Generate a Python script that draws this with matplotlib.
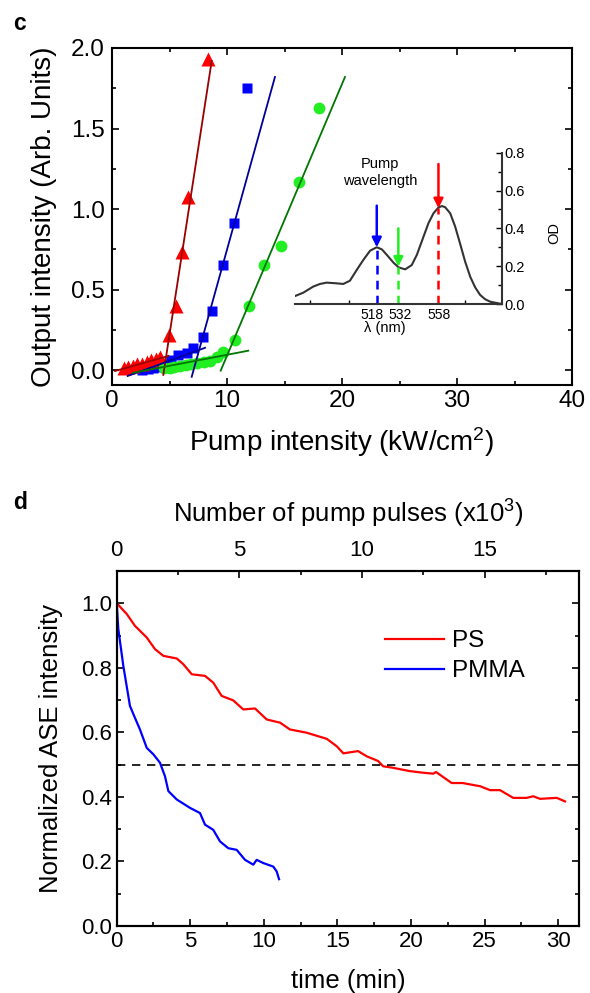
import matplotlib
matplotlib.use("Agg")
import matplotlib.pyplot as plt
from matplotlib.ticker import MultipleLocator, FixedLocator, FormatStrFormatter, NullFormatter
from matplotlib.transforms import offset_copy

plt.rcParams['font.family'] = ['Liberation Sans', 'DejaVu Sans']
plt.rcParams['mathtext.fontset'] = 'custom'
plt.rcParams['mathtext.rm'] = 'Liberation Sans'
plt.rcParams['mathtext.it'] = 'Liberation Sans:italic'

# ---------------- Panel c data ----------------
red_x = [1.0, 1.4, 1.8, 2.2, 2.6, 3.0, 3.4, 3.8, 4.2, 4.99, 5.57, 6.11, 6.64, 8.37]
red_y = [0.01, 0.02, 0.025, 0.035, 0.04, 0.05, 0.06, 0.07, 0.08, 0.217, 0.40, 0.73, 1.075, 1.93]
blue_x = [2.6, 3.1, 3.6, 4.1, 4.6, 5.1, 5.77, 6.49, 7.07, 7.94, 8.70, 9.62, 10.64, 11.71]
blue_y = [0.0, 0.005, 0.012, 0.02, 0.035, 0.06, 0.093, 0.107, 0.134, 0.207, 0.368, 0.65, 0.916, 1.75]
green_x = [4.5, 5.0, 5.4, 5.9, 6.4, 6.9, 7.4, 8.0, 8.5, 9.1, 9.68, 10.7, 11.9, 13.2, 14.7, 16.3, 18.0]
green_y = [0.014, 0.01, 0.02, 0.027, 0.033, 0.037, 0.043, 0.05, 0.058, 0.083, 0.114, 0.186, 0.40,
           0.65, 0.77, 1.17, 1.63]

# fit lines (end points)
red_fit_lo_x, red_fit_lo_y = [0.26, 4.9], [-0.006, 0.087]
red_fit_hi_x, red_fit_hi_y = [4.46, 8.67], [-0.03, 1.92]
blue_fit_lo_x, blue_fit_lo_y = [1.36, 8.09], [-0.037, 0.138]
blue_fit_hi_x, blue_fit_hi_y = [6.93, 14.17], [-0.042, 1.82]
green_fit_lo_x, green_fit_lo_y = [1.85, 11.85], [-0.017, 0.12]
green_fit_hi_x, green_fit_hi_y = [9.45, 20.26], [-0.004, 1.82]

# inset absorption spectrum
wl = [465, 470.4, 476.8, 481.2, 485.5, 490.9, 496.3, 500.6, 505, 509.3, 513.7, 518, 521.3,
      524.5, 528.8, 532.1, 536.4, 540.7, 544, 548.3, 551.5, 554.8, 558, 560.2, 562.3, 565.6,
      568.8, 572, 575.3, 578.6, 581.8, 585, 588.3, 591.6, 599]
od = [0.042, 0.060, 0.092, 0.106, 0.113, 0.110, 0.106, 0.123, 0.18, 0.233, 0.282, 0.30, 0.289,
      0.26, 0.219, 0.194, 0.183, 0.206, 0.26, 0.356, 0.427, 0.48, 0.51, 0.518, 0.512, 0.48,
      0.41, 0.32, 0.224, 0.144, 0.088, 0.048, 0.025, 0.012, 0.0]
pump_wl = [518, 532, 558]
pump_labels = ['518', '532', '558']
arrow_top = [0.52, 0.40, 0.74]
arrow_tip = [0.30, 0.197, 0.506]
pump_colors = ['#0000FF', '#22EE22', '#FF0000']

# ---------------- Panel d data ----------------
ps_t = [0, 0.68, 1.24, 2.04, 2.6, 3.17, 4.08, 4.53, 5.1, 6.0, 6.56, 7.13, 7.92, 8.6, 9.4,
        10.19, 11.1, 11.77, 12.9, 14.27, 14.95, 15.4, 16.4, 16.98, 17.77, 18.1, 18.8, 19.9,
        20.8, 21.5, 21.7, 22.76, 23.5, 24.7, 25.36, 26.04, 26.94, 27.85, 28.3, 28.76, 29.9, 30.46]
ps_i = [1.0, 0.967, 0.93, 0.894, 0.858, 0.837, 0.829, 0.811, 0.78, 0.775, 0.754, 0.713, 0.699,
        0.671, 0.674, 0.64, 0.63, 0.609, 0.599, 0.58, 0.557, 0.535, 0.542, 0.526, 0.511, 0.495,
        0.49, 0.48, 0.475, 0.472, 0.477, 0.443, 0.443, 0.433, 0.421, 0.421, 0.397, 0.397,
        0.402, 0.394, 0.397, 0.386]
pmma_t = [0, 0.11, 0.45, 0.9, 1.24, 1.58, 2.04, 2.49, 2.94, 3.28, 3.51, 4.08, 4.98, 5.66, 6.0,
          6.56, 7.02, 7.58, 8.15, 8.72, 9.28, 9.51, 9.96, 10.64, 10.87, 11.03]
pmma_i = [1.0, 0.92, 0.806, 0.682, 0.645, 0.609, 0.552, 0.532, 0.506, 0.464, 0.418, 0.392,
          0.366, 0.35, 0.314, 0.298, 0.262, 0.241, 0.236, 0.205, 0.19, 0.205, 0.195, 0.184,
          0.169, 0.145]
pulses_per_min = 0.6  # x10^3 pulses per minute (10 Hz)

W, H = 590, 993
fig = plt.figure(figsize=(W / 100, H / 100), dpi=100)

def style_ticks(ax, size):
    ax.tick_params(which='both', direction='in', labelsize=size, width=1.2)
    ax.tick_params(which='major', length=5)
    ax.tick_params(which='minor', length=3)
    for s in ax.spines.values():
        s.set_linewidth(1.5)

# ---------------- Panel c ----------------
axc = fig.add_axes([112 / W, 1 - 385 / H, 460 / W, 337 / H])
axc.plot(blue_x, blue_y, 's', color='#0000FF', ms=7.5, mec='none', zorder=3)
axc.plot(red_x, red_y, '^', color='#FF0000', ms=10, mec='none', zorder=3)
axc.plot(green_x, green_y, 'o', color='#22EE22', ms=8.5, mec='none', zorder=3)
for fx, fy, c in [(red_fit_lo_x, red_fit_lo_y, '#990000'), (red_fit_hi_x, red_fit_hi_y, '#990000'),
                  (blue_fit_lo_x, blue_fit_lo_y, '#000099'), (blue_fit_hi_x, blue_fit_hi_y, '#000099'),
                  (green_fit_lo_x, green_fit_lo_y, '#007700'), (green_fit_hi_x, green_fit_hi_y, '#007700')]:
    axc.plot(fx, fy, '-', color=c, lw=1.3, zorder=4)
axc.set_xlim(0, 40)
axc.set_ylim(-0.093, 2.0)
axc.xaxis.set_major_locator(MultipleLocator(10))
axc.xaxis.set_minor_locator(MultipleLocator(5))
axc.yaxis.set_major_locator(MultipleLocator(0.5))
axc.yaxis.set_minor_locator(MultipleLocator(0.25))
axc.yaxis.set_major_formatter(FormatStrFormatter('%.1f'))
style_ticks(axc, 17.5)
axc.tick_params(which='both', top=True, right=True)
axc.tick_params(axis='y', pad=5)
axc.set_xlabel('Pump intensity (kW/cm$^2$)', fontsize=20, va='top')
axc.xaxis.set_label_coords(0.5, -0.118)
axc.set_ylabel('Output intensity (Arb. Units)', fontsize=20)
axc.yaxis.set_label_coords(-0.12, 0.5)

# inset
axi = fig.add_axes([295 / W, 1 - 304 / H, 206.7 / W, 151.3 / H])
axi.patch.set_alpha(0)
axi.plot(wl, od, '-', color='#333333', lw=1.5)
for w_, top, tip, c in zip(pump_wl, arrow_top, arrow_tip, pump_colors):
    axi.annotate('', xy=(w_, tip), xytext=(w_, top),
                 arrowprops=dict(arrowstyle='-|>', color=c, lw=1.8, mutation_scale=14,
                                 shrinkA=0, shrinkB=0))
    axi.plot([w_, w_], [0, tip], color=c, lw=1.8, dashes=(3.5, 2.5))
axi.set_xlim(465, 599)
axi.set_ylim(0, 0.8)
axi.spines['top'].set_visible(False)
axi.spines['left'].set_visible(False)
axi.yaxis.tick_right()
axi.xaxis.set_major_locator(FixedLocator(pump_wl))
axi.xaxis.set_major_formatter(NullFormatter())
axi.xaxis.set_minor_locator(FixedLocator([475, 500, 575]))
axi.yaxis.set_major_locator(MultipleLocator(0.2))
axi.yaxis.set_minor_locator(MultipleLocator(0.1))
axi.yaxis.set_major_formatter(FormatStrFormatter('%.1f'))
axi.tick_params(which='both', direction='in', labelsize=10.5, width=1.0, pad=2)
axi.tick_params(which='major', length=4)
axi.tick_params(which='minor', length=3)
axi.tick_params(axis='x', which='major', length=0)
for s in ['bottom', 'right']:
    axi.spines[s].set_linewidth(1.5)
    axi.spines[s].set_color('#333333')
# tick labels for pump wavelengths, nudged apart as in the original
for w_, lab, dx in zip(pump_wl, pump_labels, [-5, 1.5, 0.5]):
    tr = offset_copy(axi.get_xaxis_transform(), fig=fig, x=dx, y=-4, units='dots')
    axi.text(w_, 0, lab, transform=tr, fontsize=10, ha='center', va='top')
axi.set_xlabel('λ (nm)', fontsize=10.5, va='top')
axi.xaxis.set_label_coords(0.435, -0.112)
axi.set_ylabel('OD', fontsize=10.5, rotation=90, va='center')
axi.yaxis.set_label_position('right')
axi.yaxis.set_label_coords(1.218, 0.469)
axi.text(520, 0.695, 'Pump\nwavelength', fontsize=10.5, ha='center', va='center', linespacing=1.25)

# ---------------- Panel d ----------------
axd = fig.add_axes([116.7 / W, 1 - 926 / H, 462.6 / W, 355 / H])
axd.plot(ps_t, ps_i, '-', color='#FF0000', lw=1.6, label='PS')
axd.plot(pmma_t, pmma_i, '-', color='#0000FF', lw=1.6, label='PMMA')
axd.axhline(0.5, color='black', lw=1.2, dashes=(5, 4))
tmax = 31.43
axd.set_xlim(0, tmax)
axd.set_ylim(0, 1.1)
axd.xaxis.set_major_locator(MultipleLocator(5))
axd.xaxis.set_minor_locator(MultipleLocator(2.5))
axd.yaxis.set_major_locator(MultipleLocator(0.2))
axd.yaxis.set_minor_locator(MultipleLocator(0.1))
axd.yaxis.set_major_formatter(FormatStrFormatter('%.1f'))
style_ticks(axd, 16)
axd.tick_params(which='both', right=True)
axd.set_xlabel('time (min)', fontsize=18.5, va='top')
axd.xaxis.set_label_coords(0.5, -0.122)
axd.set_ylabel('Normalized ASE intensity', fontsize=18.5)
axd.yaxis.set_label_coords(-0.116, 0.5)
leg = axd.legend(loc='upper left', bbox_to_anchor=(0.56, 0.86), frameon=False, fontsize=17.5,
                 handlelength=2.4, handletextpad=0.35, labelspacing=0.33, borderaxespad=0)

axt = axd.twiny()
axt.set_xlim(0, tmax * pulses_per_min)
axt.xaxis.set_major_locator(MultipleLocator(5))
axt.xaxis.set_minor_locator(MultipleLocator(2.5))
style_ticks(axt, 16)
axt.tick_params(axis='x', pad=7)
axt.set_xlabel('Number of pump pulses (x10$^3$)', fontsize=18.5, va='bottom')
axt.xaxis.set_label_coords(0.5, 1.115)

fig.text(19 / W, 1 - 24 / H, 'c', fontsize=16.5, fontweight='bold', ha='center', va='center')
fig.text(20 / W, 1 - 503 / H, 'd', fontsize=16.5, fontweight='bold', ha='center', va='center')

fig.savefig('out.png', dpi=100)
